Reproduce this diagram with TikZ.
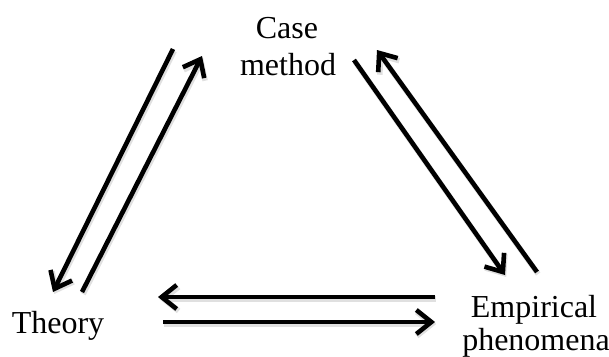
\documentclass[tikz,border=0pt]{standalone}
\usepackage{fontspec}
\setmainfont{Liberation Serif}
\usetikzlibrary{arrows.meta}
\begin{document}
\begin{tikzpicture}[x=1pt,y=-1pt,
  label/.style={inner sep=0pt,anchor=base,font=\fontsize{32}{38}\selectfont},
  flow/.style={line width=4.6pt,-{Straight Barb[length=15pt,width=24pt,line width=4.6pt]}},
  flowshadow/.style={flow,draw=black!12,line width=5.5pt,
    -{Straight Barb[length=15pt,width=24pt,line width=5.5pt]},
    transform canvas={xshift=1.2pt,yshift=-2pt}}]
\useasboundingbox (0,0) rectangle (609,356);
% labels
\node[label] (case) at (287,38) {Case};
\node[label] (method) at (288,75) {method};
\node[label] (theory) at (58,333) {Theory};
\node[label] (emp) at (534,317) {Empirical};
\node[label] (phen) at (536,350) {phenomena};
% arrow end points
\coordinate (tlA) at (173,49);
\coordinate (tlB) at (53,292);
\coordinate (tlC) at (82,292);
\coordinate (tlD) at (202,56);
\coordinate (trA) at (354,60);
\coordinate (trB) at (505,275);
\coordinate (trC) at (537,272);
\coordinate (trD) at (377,50);
\coordinate (hA) at (435,297);
\coordinate (hB) at (158,297);
\coordinate (hC) at (163,322);
\coordinate (hD) at (435,322);
% soft shadows under the connectors
\foreach \s/\e in {tlA/tlB,tlC/tlD,trA/trB,trC/trD,hA/hB,hC/hD}
  \draw[flowshadow] (\s) -- (\e);
% connectors
\draw[flow] (tlA) -- (tlB);
\draw[flow] (tlC) -- (tlD);
\draw[flow] (trA) -- (trB);
\draw[flow] (trC) -- (trD);
\draw[flow] (hA) -- (hB);
\draw[flow] (hC) -- (hD);
\end{tikzpicture}
\end{document}
